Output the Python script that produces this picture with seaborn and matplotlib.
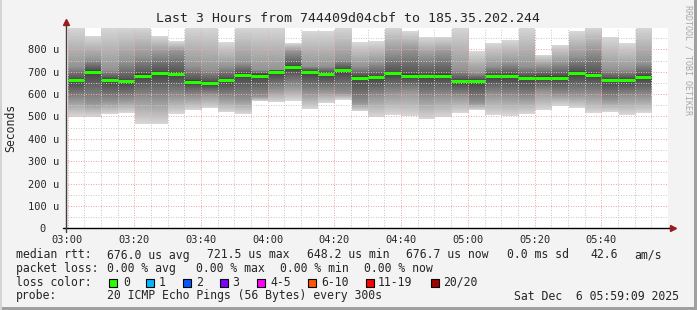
import numpy as np
import pandas as pd
import matplotlib
matplotlib.use("Agg")
import matplotlib.pyplot as plt
import seaborn as sns
from matplotlib.patches import Rectangle

# ---------------- data ----------------
bin_minutes = list(range(0, 175, 5))          # bin start, minutes after 03:00
median_us = [661, 700, 662, 657, 683, 694, 689, 656, 648.2, 662,
             686, 683, 697, 721.5, 697, 688, 706, 673, 675, 692,
             683, 679, 683, 657, 657, 679, 679, 671, 674, 674,
             694, 685, 662, 662, 676.7]
max_us = [900, 859, 900, 900, 900, 859, 834, 900, 900, 830,
          900, 900, 900, 827, 882, 882, 900, 830, 834, 900,
          879, 853, 856, 900, 789, 827, 842, 900, 775, 819,
          879, 900, 853, 827, 900]
min_us = [497, 497, 508, 514, 466, 463, 511, 526, 535, 517,
          510, 566, 561, 569, 532, 559, 573, 521, 497, 506,
          499, 487, 496, 514, 526, 506, 502, 510, 526, 547,
          536, 514, 517, 506, 514]
q75_us = [722, 752, 707, 745, 767, 782, 789, 722, 707, 722,
          737, 707, 707, 789, 722, 722, 752, 722, 737, 782,
          797, 767, 782, 707, 693, 722, 737, 722, 722, 737,
          767, 789, 707, 707, 737]
q25_us = [573, 559, 566, 573, 581, 573, 588, 588, 596, 581,
          573, 588, 618, 633, 603, 611, 603, 559, 588, 603,
          611, 581, 588, 588, 559, 596, 588, 581, 611, 596,
          596, 596, 573, 588, 588]

xtick_pos = [0, 20, 40, 60, 80, 100, 120, 140, 160]
xtick_labels = ["03:00", "03:20", "03:40", "04:00", "04:20",
                "04:40", "05:00", "05:20", "05:40"]
ytick_pos = [0, 100, 200, 300, 400, 500, 600, 700, 800]
ytick_labels = ["0  ", "100 u", "200 u", "300 u", "400 u",
                "500 u", "600 u", "700 u", "800 u"]

loss_labels = ["0", "1", "2", "3", "4-5", "6-10", "11-19", "20/20"]
loss_colors = ["#26ff00", "#00b8ff", "#0059ff", "#7e00ff",
               "#ff00ff", "#ff5500", "#ff0000", "#a10000"]

df = pd.DataFrame({"t": bin_minutes, "med": median_us, "lo": min_us,
                   "hi": max_us, "q25": q25_us, "q75": q75_us})

# ---------------- style ----------------
sns.set_style("white")
MONO = ["DejaVu Sans Mono"]
plt.rcParams["font.family"] = MONO

W, H = 697, 310
fig = plt.figure(figsize=(W / 100, H / 100), dpi=100, facecolor="#F3F3F3")
px_l, px_r, px_t, px_b = 67.5, 668.0, 28.3, 228.3
ax = fig.add_axes([px_l / W, 1 - px_b / H, (px_r - px_l) / W, (px_b - px_t) / H])
ax.set_facecolor("white")

YMAX = 894

# smoke: per-bin vertical shading between min, quartiles, median and max
yy = np.arange(0, 900, 1.0) + 0.5
n_cols = 36
img = np.ones((len(yy), n_cols, 4))
img[..., 3] = 0.0
for i, r in df.iterrows():
    col = int(r.t // 5)
    g = np.interp(yy, [r.lo, r.q25, r.med - 6, r.med, r.med + 8, r.q75, r.hi],
                  [0.85, 0.58, 0.27, 0.20, 0.33, 0.58, 0.85])
    inside = (yy >= r.lo) & (yy <= r.hi)
    img[inside, col, 0] = g[inside]
    img[inside, col, 1] = g[inside]
    img[inside, col, 2] = g[inside]
    img[inside, col, 3] = 1.0
ax.imshow(img, origin="lower", extent=[0, 180, 0, 900], aspect="auto",
          interpolation="nearest", zorder=0.5)
ax.set_xlim(0, 180)
ax.set_ylim(0, YMAX)

# median rtt
ax.hlines(df.med, df.t, df.t + 5, color="#26FF00", lw=2.2, zorder=4)

for s in ax.spines.values():
    s.set_visible(False)

ax.set_xticks(xtick_pos)
ax.set_xticklabels(xtick_labels)
ax.set_xticks(list(range(0, 180, 5)), minor=True)
ax.set_yticks(ytick_pos)
ax.set_yticklabels(ytick_labels)
ax.set_yticks([50, 150, 250, 350, 450, 550, 650, 750, 850], minor=True)

ax.set_axisbelow(False)
ax.grid(which="minor", color="#CACACA", ls=(0, (1, 1.5)), lw=0.72)
ax.grid(which="major", color="#EDA8A8", ls=(0, (1, 1.5)), lw=0.72)

ax.tick_params(axis="x", which="major", direction="out", length=2.2, width=0.8,
               color="black", pad=2.5, labelsize=7.5)
ax.tick_params(axis="y", which="major", direction="out", length=1.5, width=0.8,
               color="black", pad=4.5, labelsize=7.5)
ax.tick_params(which="minor", length=0)

# axes lines with arrows
ax.plot([-0.0075, 1.0075], [0, 0], transform=ax.transAxes, color="black",
        lw=1.0, clip_on=False, zorder=6)
ax.plot([1.0085], [0], marker=">", ms=5, color="#9B1C1C",
        transform=ax.transAxes, clip_on=False, zorder=7)
ax.plot([-0.0018, -0.0018], [-0.02, 1.025], transform=ax.transAxes,
        color="#404040", lw=1.0, clip_on=False, zorder=6)
ax.plot([-0.0018], [1.03], marker="^", ms=5, color="#9B1C1C",
        transform=ax.transAxes, clip_on=False, zorder=7)

# ---------------- texts ----------------
def fx(x):
    return x / W

def fy(y):
    return 1 - y / H

fig.text(fx(348), fy(19), "Last 3 Hours from 744409d04cbf to 185.35.202.244",
         ha="center", va="center", fontsize=9.5, family=MONO)
fig.text(fx(11), fy(128), "Seconds", rotation=90, ha="center", va="center",
         fontsize=8.3, family=MONO)
fig.text(fx(688), fy(5), "RRDTOOL / TOBI OETIKER", rotation=270, ha="center",
         va="top", fontsize=6, color="#A8A8A8", family=MONO)

LS = 8.3
row1 = [(16, "median rtt:"), (107, "676.0 us avg"), (207, "721.5 us max"),
        (307, "648.2 us min"), (405.5, "676.7 us now"), (507, "0.0 ms sd"),
        (590, "42.6"), (634, "am/s")]
row2 = [(16, "packet loss:"), (107, "0.00 % avg"), (196, "0.00 % max"),
        (279.5, "0.00 % min"), (364.5, "0.00 % now")]
row4 = [(16, "probe:"), (107, "20 ICMP Echo Pings (56 Bytes) every 300s"),
        (513.5, "Sat Dec  6 05:59:09 2025")]
for y, row in [(255, row1), (268.5, row2), (296, row4)]:
    for x, s in row:
        fig.text(fx(x), fy(y), s, ha="left", va="center", fontsize=LS, family=MONO)

fig.text(fx(16), fy(282), "loss color:", ha="left", va="center", fontsize=LS, family=MONO)
sq_x = [109.3, 146, 182.6, 220, 257, 308, 365.6, 430.5]
lab_x = [123, 159, 196, 232.5, 270.5, 321.5, 378, 443.5]
for sx, lx, lab, col in zip(sq_x, lab_x, loss_labels, loss_colors):
    fig.add_artist(Rectangle((fx(sx), fy(286.5)), 8 / W, 8 / H, transform=fig.transFigure,
                             facecolor=col, edgecolor="black", lw=0.8))
    fig.text(fx(lx), fy(282), lab, ha="left", va="center", fontsize=LS, family=MONO)

# frame
fig.add_artist(Rectangle((fx(694), 0), 3 / W, 1, transform=fig.transFigure,
                         facecolor="#A0A0A0", edgecolor="none"))
fig.add_artist(Rectangle((0, 0), 1, 3.5 / H, transform=fig.transFigure,
                         facecolor="#A0A0A0", edgecolor="none"))
fig.add_artist(Rectangle((0, 0), 2 / W, 1, transform=fig.transFigure,
                         facecolor="#D4D4D4", edgecolor="none"))

fig.savefig("out.png", dpi=100, facecolor=fig.get_facecolor())
